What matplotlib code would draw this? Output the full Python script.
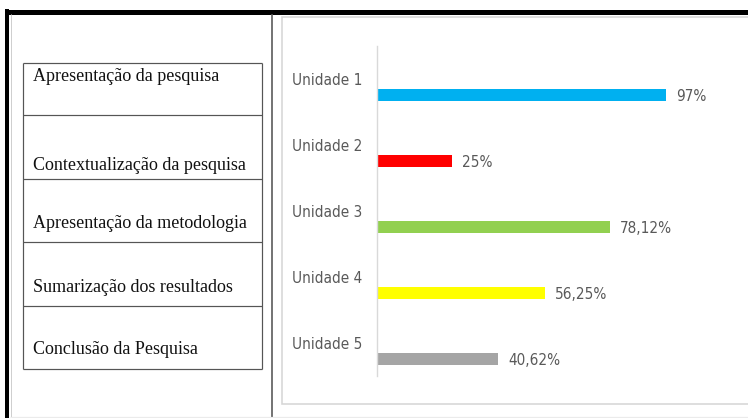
import matplotlib
matplotlib.use("Agg")
import matplotlib.pyplot as plt
from matplotlib import font_manager as fm
from matplotlib.lines import Line2D
from matplotlib.patches import Rectangle

# ---------------- data ----------------
categories = ["Unidade 1", "Unidade 2", "Unidade 3", "Unidade 4", "Unidade 5"]
values = [97, 25, 78.12, 56.25, 40.62]
value_labels = ["97%", "25%", "78,12%", "56,25%", "40,62%"]
bar_colors = ["#00B0F0", "#FF0000", "#92D050", "#FFFF00", "#A5A5A5"]
table_items = [
    "Apresentação da pesquisa",
    "Contextualização da pesquisa",
    "Apresentação da metodologia",
    "Sumarização dos resultados",
    "Conclusão da Pesquisa",
]

W, H = 748, 418
fig = plt.figure(figsize=(W / 100, H / 100), dpi=100)
fig.patch.set_facecolor("white")


def fx(x):
    return x / W


def fy(y):
    return 1 - y / H


def hline(x0, x1, y, color, px):
    fig.add_artist(Line2D([fx(x0), fx(x1)], [fy(y), fy(y)], transform=fig.transFigure,
                          color=color, lw=px * 0.72, solid_capstyle="butt"))


def vline(x, y0, y1, color, px):
    fig.add_artist(Line2D([fx(x), fx(x)], [fy(y0), fy(y1)], transform=fig.transFigure,
                          color=color, lw=px * 0.72, solid_capstyle="butt"))


# ---------------- fonts ----------------
entries = fm.fontManager.ttflist
names = {f.name for f in entries}
if "Liberation Sans Narrow" in names:
    cat_font = dict(family="Liberation Sans Narrow", size=13)
elif any(f.name == "DejaVu Sans" and str(f.stretch) in ("condensed", "semi-condensed") for f in entries):
    cat_font = dict(family="DejaVu Sans", stretch="condensed", size=11)
else:
    cat_font = dict(family="Liberation Sans", size=11)
serif_font = dict(family="Liberation Serif", size=13)

# ---------------- frame ----------------
hline(5, W + 2, 11.5, "black", 5)
vline(7, 9, H + 2, "black", 4)
vline(10.5, 14, H + 2, "#cfcfcf", 1)
vline(272, 14, H + 2, "#555555", 1.6)
hline(10, W + 2, 416.5, "#ebebeb", 1.2)

# chart panel border
fig.add_artist(Rectangle((fx(282), fy(404)), fx(W + 20) - fx(282), fy(17) - fy(404),
                         transform=fig.transFigure, facecolor="white",
                         edgecolor="#d6d6d6", lw=1.6 * 0.72, zorder=0))

# ---------------- table ----------------
row_lines = [63, 115, 179, 241.5, 305.5, 369]
for y in row_lines:
    hline(23, 262, y, "#555555", 1.2)
vline(23, row_lines[0], row_lines[-1], "#555555", 1.2)
vline(262, row_lines[0], row_lines[-1], "#555555", 1.2)

baselines = [81, 170, 228, 292, 354]
for txt, yb in zip(table_items, baselines):
    fig.text(fx(33), fy(yb), txt, ha="left", va="baseline", color="#111111", **serif_font)

# ---------------- bar chart ----------------
ax = fig.add_axes([fx(377), fy(376), fx(675) - fx(377), fy(46) - fy(376)])
ax.set_facecolor("none")
pos = list(range(len(categories)))
offset = 0.245
ax.barh([p + offset for p in pos], values, height=0.19, color=bar_colors, zorder=2)
ax.set_xlim(0, 100)
ax.set_ylim(len(categories) - 0.5, -0.5)
ax.set_yticks(pos)
ax.set_yticklabels(categories, color="#595959", **cat_font)
ax.tick_params(axis="y", length=0, pad=15 * 0.72)
ax.set_xticks([])
for s in ("top", "right", "bottom"):
    ax.spines[s].set_visible(False)
ax.spines["left"].set_color("#d9d9d9")
ax.spines["left"].set_linewidth(1.0)

for p, v, lab in zip(pos, values, value_labels):
    ax.text(v + 3.4, p + offset + 0.02, lab, ha="left", va="center", color="#595959",
            clip_on=False, **cat_font)

fig.savefig("out.png", dpi=100, facecolor="white")
